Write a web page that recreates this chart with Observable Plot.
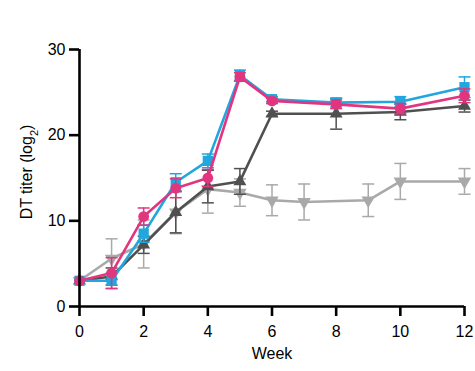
<!DOCTYPE html>
<html>
<head>
<meta charset="utf-8">
<script src="https://cdn.jsdelivr.net/npm/d3@7"></script>
<script src="https://cdn.jsdelivr.net/npm/@observablehq/plot@0.6"></script>
<style>
  html, body { margin: 0; padding: 0; background: #fff; }
  #chart { width: 475px; height: 371px; }
</style>
</head>
<body>
<div id="chart"></div>
<script>
// ---- Data ----
const xTicks = [0, 2, 4, 6, 8, 10, 12];
const yTicks = [0, 10, 20, 30];

const weeksMain = [0, 1, 2, 3, 4, 5, 6, 8, 10, 12];
const weeksLight = [0, 1, 2, 3, 4, 5, 6, 7, 9, 10, 12];

const lightGrayMean = [3, 5.6, 7.3, 11, 13.7, 13.3, 12.4, 12.2, 12.4, 14.6, 14.6];
const lightGraySd   = [0, 2.3, 2.8, 2.5, 2.8, 1.6, 1.8, 2.1, 1.9, 2.1, 1.5];

const darkGrayMean = [3, 3.5, 7.2, 11, 14, 14.6, 22.5, 22.5, 22.7, 23.4];
const darkGraySd   = [0, 1.0, 1.0, 2.4, 1.9, 1.5, 0.3, 1.8, 0.9, 0.7];

const blueMean = [3, 3, 8.5, 14.5, 17, 27, 24.2, 23.8, 23.9, 25.6];
const blueSd   = [0, 0.9, 1.0, 1.0, 0.8, 0.6, 0.3, 0.5, 0.6, 1.2];

const pinkMean = [3, 3.9, 10.5, 13.8, 15, 26.8, 24, 23.6, 23.1, 24.6];
const pinkSd   = [0, 1.8, 1.0, 1.1, 1.0, 0.5, 0.3, 0.5, 0.6, 0.8];

// ---- Build tables ----
function table(weeks, mean, sd) {
  return weeks.map((w, i) => ({week: w, mean: mean[i], sd: sd[i]}));
}
const series = [
  {name: "light", data: table(weeksLight, lightGrayMean, lightGraySd), color: "#a9a9a9", symbol: "down", r: 5},
  {name: "dark",  data: table(weeksMain, darkGrayMean, darkGraySd),   color: "#505050", symbol: "triangle", r: 4.8},
  {name: "blue",  data: table(weeksMain, blueMean, blueSd),           color: "#21a6de", symbol: "square", r: 5.8},
  {name: "pink",  data: table(weeksMain, pinkMean, pinkSd),           color: "#e2357f", symbol: "circle", r: 5.4}
];

const triangleDown = {
  draw(context, size) {
    const y = -Math.sqrt(size / (Math.sqrt(3) * 3));
    context.moveTo(0, -y * 2);
    context.lineTo(-Math.sqrt(3) * y, y);
    context.lineTo(Math.sqrt(3) * y, y);
    context.closePath();
  }
};
const capSymbol = {
  draw(context, size) {
    const w = Math.sqrt(size / Math.PI);
    context.moveTo(-w, 0);
    context.lineTo(w, 0);
  }
};

const marks = [];
for (const s of series) {
  const withErr = s.data.filter(d => d.sd > 0);
  marks.push(
    Plot.ruleX(withErr, {x: "week", y1: d => d.mean - d.sd, y2: d => d.mean + d.sd, stroke: s.color, strokeWidth: 1.5}),
    Plot.dot(withErr, {x: "week", y: d => d.mean + d.sd, symbol: capSymbol, r: 6, stroke: s.color, strokeWidth: 1.5}),
    Plot.dot(withErr, {x: "week", y: d => d.mean - d.sd, symbol: capSymbol, r: 6, stroke: s.color, strokeWidth: 1.5}),
    Plot.line(s.data, {x: "week", y: "mean", stroke: s.color, strokeWidth: 2.6}),
    Plot.dot(s.data, {x: "week", y: "mean", symbol: s.symbol === "down" ? triangleDown : s.symbol, r: s.r, fill: s.color, stroke: "none"})
  );
}

const chart = Plot.plot({
  width: 475,
  height: 371,
  marginLeft: 79,
  marginRight: 11,
  marginTop: 49,
  marginBottom: 65,
  style: {fontFamily: "'Liberation Sans', Arial, sans-serif", fontSize: "16px", color: "#000", background: "#fff", overflow: "visible"},
  x: {domain: [0, 12]},
  y: {domain: [0, 30]},
  marks: [
    ...marks,
    Plot.ruleX([0], {y1: 0, y2: 30, stroke: "#000", strokeWidth: 2.6}),
    Plot.ruleY([0], {x1: 0, x2: 12, stroke: "#000", strokeWidth: 2.6}),
    Plot.axisX({ticks: xTicks, tickSize: 10, tickPadding: 9, strokeWidth: 2.6, stroke: "#000", label: null, fontSize: 16}),
    Plot.axisY({ticks: yTicks, tickSize: 10, tickPadding: 4, strokeWidth: 2.6, stroke: "#000", label: null, fontSize: 16}),
    Plot.text(["Week"], {frameAnchor: "bottom", dy: 52, fontSize: 16, fill: "#000"}),
    Plot.text(["DT titer (log2)"], {frameAnchor: "left", textAnchor: "middle", dx: -53, dy: -6, rotate: -90, fontSize: 16, fill: "#000"})
  ]
});

document.getElementById("chart").appendChild(chart);

// subscript the "2" in log2
d3.select(chart).selectAll("text").each(function() {
  const t = d3.select(this);
  if (t.text() === "DT titer (log2)") {
    const target = t.select("tspan").empty() ? t : t.select("tspan");
    target.text(null);
    target.append("tspan").text("DT titer (log");
    target.append("tspan").attr("baseline-shift", "sub").attr("font-size", "11px").text("2");
    target.append("tspan").text(")");
  }
});
</script>
</body>
</html>
